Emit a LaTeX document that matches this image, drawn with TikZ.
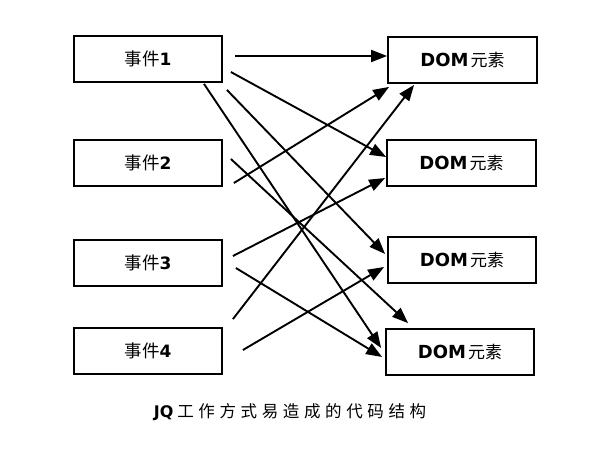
\documentclass[tikz,border=0pt]{standalone}
\usepackage{fontspec}
\newfontfamily\cjk{Noto Sans CJK SC}
\newfontfamily\cjkwide[LetterSpace=28]{Noto Sans CJK SC}
\newfontfamily\dv{DejaVu Sans}
\usetikzlibrary{arrows.meta,calc}
\tikzset{
  box/.style={draw=black, line width=1.8pt, minimum width=148pt, minimum height=46pt, inner sep=0pt, fill=white},
  arr/.style={line width=1.9pt, -{Triangle[length=16pt,width=12pt]}},
}
\newcommand{\evt}[1]{{\fontsize{17.5}{20}\selectfont\cjk 事件}{\fontsize{17}{20}\selectfont\dv\bfseries #1}}
\newcommand{\dom}{{\fontsize{18}{20}\selectfont\dv\bfseries DOM}\hspace{2pt}{\fontsize{17}{20}\selectfont\cjk 元素}}
\begin{document}
\begin{tikzpicture}[x=1pt,y=-1pt]
\useasboundingbox (0,0) rectangle (592,464);
\fill[white] (0,0) rectangle (592,464);
% left boxes
\node[box] (L1) at (148,59) {\evt{1}};
\node[box] (L2) at (148,163) {\evt{2}};
\node[box] (L3) at (148,263) {\evt{3}};
\node[box] (L4) at (148,351) {\evt{4}};
% right boxes
\node[box, minimum width=149pt] (R1) at (462.5,60) {\dom};
\node[box, minimum width=149pt] (R2) at (461.5,163) {\dom};
\node[box] (R3) at (462,260) {\dom};
\node[box] (R4) at (460,352) {\dom};
% connectors
\draw[arr] ($(L1.east)+(12,-3)$) -- ($(R1.west)+(0,-4)$);
\draw[arr] ($(L1.east)+(8,13)$) -- ($(R2.west)+(0,-6)$);
\draw[arr] ($(L1.south east)+(4,7)$) -- ($(R3.west)+(-2,-6)$);
\draw[arr] ($(L1.south)+(56,1)$) -- ($(R4.west)+(-4,-4)$);
\draw[arr] ($(L2.east)+(8,-4)$) -- ($(R4.north west)+(23,-5)$);
\draw[arr] ($(L2.east)+(11,20)$) -- ($(R1.south west)+(2,3)$);
\draw[arr] ($(L3.east)+(10,-7)$) -- ($(R2.west)+(-1,15)$);
\draw[arr] ($(L3.east)+(13,5)$) -- ($(R4.west)+(-3,5)$);
\draw[arr] ($(L4.north east)+(10,-8)$) -- ($(R1.south west)+(27,1)$);
\draw[arr] ($(L4.east)+(20,-1)$) -- ($(R3.west)+(-3,7)$);
% caption
\node (cap) at (290,412) {{\fontsize{16}{20}\selectfont\dv\bfseries JQ}\hspace{4pt}{\fontsize{16.5}{20}\selectfont\cjkwide 工作方式易造成的代码结构}};
\end{tikzpicture}
\end{document}
